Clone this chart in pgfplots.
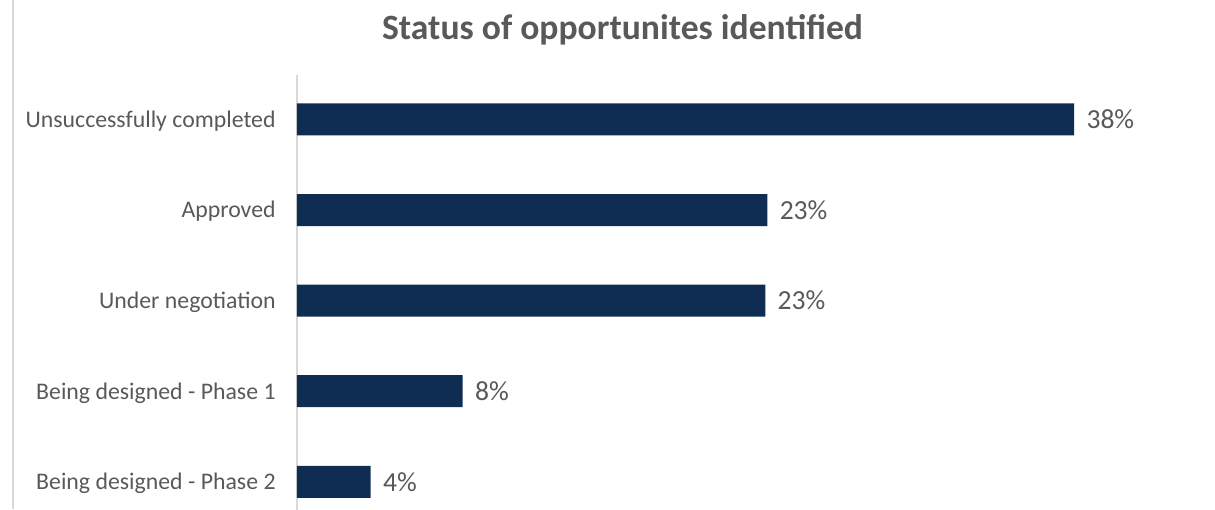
\documentclass[border=0pt]{standalone}
\usepackage{pgfplots}
\pgfplotsset{compat=1.18}
\usepackage{fontspec}
\setmainfont{Carlito}

\definecolor{barnavy}{HTML}{0F2D52}
\definecolor{txtgray}{HTML}{595959}
\definecolor{axgray}{HTML}{D9D9D9}

\begin{document}
\begin{tikzpicture}
% page = 1215 x 509 px at 0.5pt per px, axis box top-left at (0,0)
\useasboundingbox (-148.5pt,37.5pt) rectangle (459pt,-217pt);
\draw[axgray, line width=0.6pt] (-142pt,37.5pt) -- (-142pt,-217pt);
\node[font=\bfseries\fontsize{17.8}{20}\selectfont, text=txtgray] at (162.75pt,22.5pt) {Status of opportunites identified};
\begin{axis}[
    at={(0pt,0pt)}, anchor=north west,
    xbar,
    x=10.225pt, y=-45.3pt,
    xmin=0, xmax=44,
    ymin=-0.49, ymax=4.31,
    bar width=16pt,
    axis x line=none,
    axis y line=left,
    axis line style={-, axgray, line width=0.8pt},
    major tick length=0pt,
    ytick={0,1,2,3,4},
    yticklabels={Unsuccessfully completed, Approved, Under negotiation, Being designed - Phase 1, Being designed - Phase 2},
    yticklabel style={font=\fontsize{11.9}{14}\selectfont, text=txtgray, inner xsep=0pt, xshift=-10.5pt, yshift=-0.8pt},
    point meta=explicit symbolic,
    nodes near coords,
    nodes near coords align={horizontal},
    nodes near coords style={font=\fontsize{13.8}{16}\selectfont, text=txtgray, anchor=west, inner xsep=0pt, xshift=6pt},
    clip=false,
]
\addplot[fill=barnavy, draw=none] coordinates {
    (38,0) [38\%]
    (23.0,1) [23\%]
    (22.9,2) [23\%]
    (8.1,3) [8\%]
    (3.6,4) [4\%]
};
\end{axis}
\end{tikzpicture}
\end{document}
